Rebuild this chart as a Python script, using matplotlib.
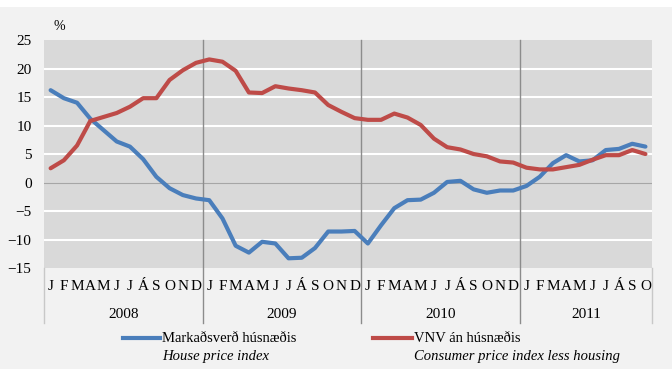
import numpy as np
import matplotlib
matplotlib.use('Agg')
import matplotlib.pyplot as plt
from matplotlib.lines import Line2D
from matplotlib.patches import Rectangle

plt.rcParams['font.family'] = ['Liberation Serif', 'DejaVu Serif']

# ----------------------------------------------------------
# Gögn: 12 mánaða breyting, jan 2008 - okt 2011
# ----------------------------------------------------------
YEARS = ['2008', '2009', '2010', '2011']
MONTHS = ['J', 'F', 'M', 'A', 'M', 'J', 'J', 'Á', 'S', 'O', 'N', 'D']
MONTH_LABELS = MONTHS * 3 + MONTHS[:10]

house_price = [
    16.2, 14.8, 14.0, 11.2, 9.2, 7.2, 6.3, 4.1, 1.0, -1.0, -2.2, -2.8,
    -3.1, -6.3, -11.1, -12.3, -10.4, -10.7, -13.3, -13.2, -11.5, -8.6, -8.6, -8.5,
    -10.7, -7.5, -4.5, -3.1, -3.0, -1.8, 0.1, 0.3, -1.2, -1.8, -1.4, -1.4,
    -0.6, 1.0, 3.4, 4.8, 3.7, 3.9, 5.7, 5.9, 6.8, 6.3,
]
cpi_less_housing = [
    2.5, 3.9, 6.5, 10.8, 11.5, 12.2, 13.3, 14.8, 14.8, 18.0, 19.7, 21.0,
    21.6, 21.2, 19.6, 15.8, 15.7, 16.9, 16.5, 16.2, 15.8, 13.6, 12.4, 11.3,
    11.0, 11.0, 12.1, 11.4, 10.1, 7.7, 6.2, 5.8, 5.0, 4.6, 3.7, 3.5,
    2.6, 2.3, 2.3, 2.7, 3.1, 4.0, 4.8, 4.8, 5.7, 5.0,
]

BLUE = '#4a7ebb'
RED = '#be4b48'
PLOT_BG = '#d9d9d9'
OUTER_BG = '#f2f2f2'
SEP = '#8c8c8c'

x = np.arange(len(house_price))

fig = plt.figure(figsize=(6.72, 3.87), dpi=100, facecolor='white')
fig.add_artist(Rectangle((0, 0.0465), 1, 0.9355, transform=fig.transFigure,
                         facecolor=OUTER_BG, edgecolor='none', zorder=-10))
ax = fig.add_axes([0.0655, 0.3075, 0.9048, 0.589])
ax.set_facecolor(PLOT_BG)

# gridlínur
for v in range(-10, 25, 5):
    ax.axhline(v, color='#a6a6a6' if v == 0 else 'white',
               linewidth=0.8 if v == 0 else 1.5, zorder=1)

ax.plot(x, house_price, color=BLUE, linewidth=3, solid_capstyle='round', zorder=3)
ax.plot(x, cpi_less_housing, color=RED, linewidth=3, solid_capstyle='round', zorder=3)

ax.set_xlim(-0.5, len(x) - 0.5)
ax.set_ylim(-15, 25)
ax.set_yticks(range(-15, 30, 5))
ax.tick_params(axis='y', length=0, pad=9, labelsize=11)
ax.set_xticks(x)
ax.set_xticklabels(MONTH_LABELS, fontsize=11)
ax.tick_params(axis='x', length=0, pad=9)
for spine in ax.spines.values():
    spine.set_visible(False)

# ársskil og árstölur
trans = ax.get_xaxis_transform()
bounds = [-0.5, 11.5, 23.5, 35.5, len(x) - 0.5]
for i, b in enumerate(bounds):
    inner = 0 < i < len(bounds) - 1
    ax.plot([b, b], [-0.24, 1 if inner else 0], transform=trans,
            color=SEP if inner else '#c8c8c8', linewidth=1, clip_on=False, zorder=2)
for i, year in enumerate(YEARS):
    ax.text((bounds[i] + bounds[i + 1]) / 2, -0.205, year, transform=trans,
            ha='center', va='center', fontsize=11)

fig.text(0.089, 0.932, '%', ha='center', va='center', fontsize=10)

# skýringar
legend_items = [
    (123, 160, BLUE, 'Markaðsverð húsnæðis', 'House price index'),
    (373, 412, RED, 'VNV án húsnæðis', 'Consumer price index less housing'),
]
for x0, x1, col, label, label_en in legend_items:
    fig.add_artist(Line2D([x0 / 672, x1 / 672], [0.1266, 0.1266],
                          transform=fig.transFigure, color=col, linewidth=3))
    fig.text((x1 + 2) / 672, 0.1266, label, ha='left', va='center', fontsize=10.5)
    fig.text((x1 + 2) / 672, 0.080, label_en, ha='left', va='center',
             fontsize=10.5, style='italic')

fig.savefig('out.png', dpi=100, facecolor=fig.get_facecolor())
